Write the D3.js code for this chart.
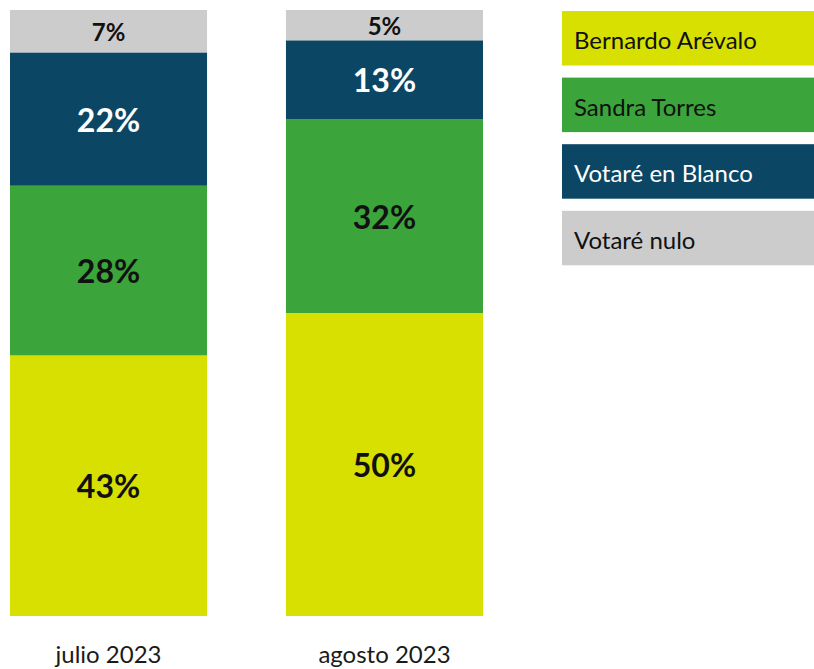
<!DOCTYPE html>
<html>
<head>
<meta charset="utf-8">
<script src="https://cdn.jsdelivr.net/npm/d3@7"></script>
<style>
  html, body { margin: 0; padding: 0; background: #ffffff; }
  svg { display: block; }
</style>
</head>
<body>
<svg id="chart" width="814" height="669"></svg>
<script>
// Intención de voto por mes (porcentajes)
const months = ["julio 2023", "agosto 2023"];
const seriesNames = ["Bernardo Arévalo", "Sandra Torres", "Votaré en Blanco", "Votaré nulo"];
const arevalo = [43, 50];
const torres = [28, 32];
const blanco = [22, 13];
const nulo = [7, 5];
const seriesColors = ["#d7e000", "#3ba43a", "#0b4665", "#cccccc"];
const labelColors = ["#111111", "#111111", "#ffffff", "#111111"];

const seriesValues = [arevalo, torres, blanco, nulo];
const rows = months.map((m, i) => {
  const r = { month: m };
  seriesNames.forEach((s, j) => { r[s] = seriesValues[j][i]; });
  return r;
});

const svg = d3.select("#chart");
const font = "Lato, 'Open Sans', sans-serif";

const x = d3.scaleBand().domain(months).range([10, 483]).paddingInner(0.286).paddingOuter(0);
const y = d3.scaleLinear().domain([0, 100]).range([616, 10]);
const color = d3.scaleOrdinal().domain(seriesNames).range(seriesColors);
const labelColor = d3.scaleOrdinal().domain(seriesNames).range(labelColors);

const stacked = d3.stack().keys(seriesNames)(rows);

const layers = svg.append("g").selectAll("g")
  .data(stacked)
  .join("g")
  .attr("fill", d => color(d.key));

layers.selectAll("rect")
  .data(d => d.map(p => ({ key: d.key, p })))
  .join("rect")
  .attr("x", d => x(d.p.data.month))
  .attr("width", x.bandwidth())
  .attr("y", d => y(d.p[1]))
  .attr("height", d => y(d.p[0]) - y(d.p[1]));

// Etiquetas de porcentaje centradas en cada segmento
layers.selectAll("text")
  .data(d => d.map(p => ({ key: d.key, p })))
  .join("text")
  .attr("x", d => x(d.p.data.month) + x.bandwidth() / 2)
  .attr("y", d => (y(d.p[0]) + y(d.p[1])) / 2)
  .attr("text-anchor", "middle")
  .attr("dominant-baseline", "central")
  .attr("font-family", font)
  .attr("font-weight", 700)
  .attr("font-size", d => (d.p[1] - d.p[0]) < 10 ? 24 : 32)
  .attr("fill", d => labelColor(d.key))
  .text(d => (d.p[1] - d.p[0]) + "%");

// Eje de meses
const xAxis = svg.append("g")
  .attr("transform", "translate(0,616)")
  .call(d3.axisBottom(x).tickSize(0).tickPadding(30));
xAxis.select(".domain").remove();
xAxis.selectAll("text")
  .attr("font-family", font)
  .attr("font-size", 24)
  .attr("fill", "#1a1a1a");

// Leyenda
const legend = svg.append("g").attr("transform", "translate(562,11)");
const item = legend.selectAll("g")
  .data(seriesNames)
  .join("g")
  .attr("transform", (d, i) => `translate(0,${i * 66.6})`);
item.append("rect")
  .attr("width", 252)
  .attr("height", 54.5)
  .attr("fill", d => color(d));
item.append("text")
  .attr("x", 12)
  .attr("y", 28.5)
  .attr("dominant-baseline", "central")
  .attr("font-family", font)
  .attr("font-size", 24)
  .attr("fill", (d, i) => i === 2 ? "#ffffff" : "#111111")
  .text(d => d);
</script>
</body>
</html>
